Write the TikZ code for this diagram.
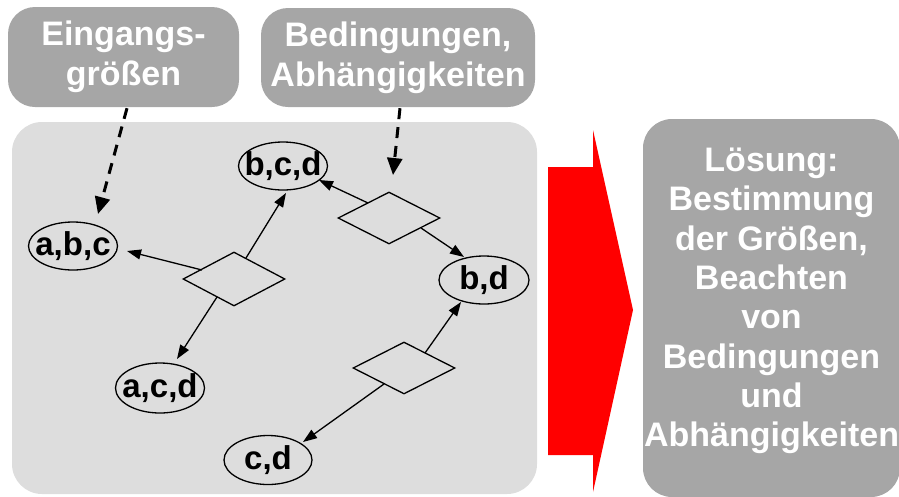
\documentclass[tikz,border=0pt]{standalone}
\usepackage{fontspec}
\setmainfont{Liberation Sans}
\usetikzlibrary{shapes.geometric,arrows.meta}
\definecolor{boxgray}{HTML}{A6A6A6}
\definecolor{panelgray}{HTML}{DDDDDD}
\definecolor{arrowred}{HTML}{FF0000}
\begin{document}
\begin{tikzpicture}[x=1pt,y=-1pt,
  topbox/.style={fill=boxgray, rounded corners=27pt, text=white, align=center,
    inner sep=0pt, font=\fontsize{34}{40}\selectfont\bfseries},
  panel/.style={fill=panelgray, rounded corners=30pt, inner sep=0pt},
  setnode/.style={ellipse, draw, line width=1.3pt, inner sep=0pt,
    font=\fontsize{33}{38}\selectfont\bfseries},
  cond/.style={diamond, draw, line width=1.3pt, inner sep=0pt, minimum width=102pt},
  rel/.style={line width=1.3pt, -{Triangle[length=14pt,width=10pt]}},
  feed/.style={line width=3pt, dash pattern=on 11pt off 8pt, -{Triangle[length=17pt,width=15pt]}},
  wtext/.style={text=white, align=center, font=\fontsize{34}{39.3}\selectfont\bfseries}
]
\useasboundingbox (0,0) rectangle (899,496);

% top boxes
\node[topbox, minimum width=231pt, minimum height=100pt] (b1) at (123.5,57) {Eingangs-\\größen};
\node[topbox, minimum width=274pt, minimum height=99pt] (b2) at (398,57.5) {Bedingungen,\\Abhängigkeiten};

% main panel
\node[panel, minimum width=525pt, minimum height=372pt] (pan) at (274.5,308) {};

% red arrow
\fill[arrowred] (548,167) -- (593,167) -- (593,130) -- (633,310) -- (593,492) -- (593,455) -- (548,455) -- cycle;

% right box
\node[fill=boxgray, rounded corners=29pt, inner sep=0pt, minimum width=257pt, minimum height=378pt,
  label={[wtext, yshift=7pt]center:{Lösung:\\Bestimmung\\der Größen,\\Beachten\\von\\Bedingungen\\und\\Abhängigkeiten}}]
  (loes) at (771.5,308) {};

% sets
\node[setnode, minimum width=89pt, minimum height=48pt] (abc) at (73,246) {\makebox[0pt]{a,b,c}};
\node[setnode, minimum width=89pt, minimum height=48pt] (bcd) at (283,166) {\makebox[0pt]{b,c,d}};
\node[setnode, minimum width=90pt, minimum height=48pt] (bd) at (484,280) {\makebox[0pt]{b,d}};
\node[setnode, minimum width=89pt, minimum height=50pt] (acd) at (160,388) {\makebox[0pt]{a,c,d}};
\node[setnode, minimum width=88pt, minimum height=49pt] (cd) at (268,460) {\makebox[0pt]{c,d}};

% conditions
\node[cond, minimum height=54pt] (d1) at (234,279) {};
\node[cond, minimum height=52pt] (d2) at (389,218) {};
\node[cond, minimum height=52pt] (d3) at (404,368) {};

% relations
\draw[rel] ([shift={(-32,-9)}]d1.center) -- ([shift={(54,5)}]abc.center);
\draw[rel] ([shift={(12,-21)}]d1.center) -- ([shift={(3,27)}]bcd.center);
\draw[rel] ([shift={(-17,18)}]d1.center) -- ([shift={(17,-29)}]acd.center);
\draw[rel] ([shift={(-21,-15)}]d2.center) -- ([shift={(36,14)}]bcd.center);
\draw[rel] ([shift={(32,10)}]d2.center) -- ([shift={(-20,-23)}]bd.center);
\draw[rel] ([shift={(21,-15)}]d3.center) -- ([shift={(-23,22)}]bd.center);
\draw[rel] ([shift={(-20,16)}]d3.center) -- ([shift={(35,-18)}]cd.center);

% dashed inputs
\draw[feed] ([shift={(3.5,1)}]b1.south) -- ([shift={(25,-32)}]abc.center);
\draw[feed] ([shift={(2,1)}]b2.south) -- ([shift={(4,-43)}]d2.center);
\end{tikzpicture}
\end{document}
